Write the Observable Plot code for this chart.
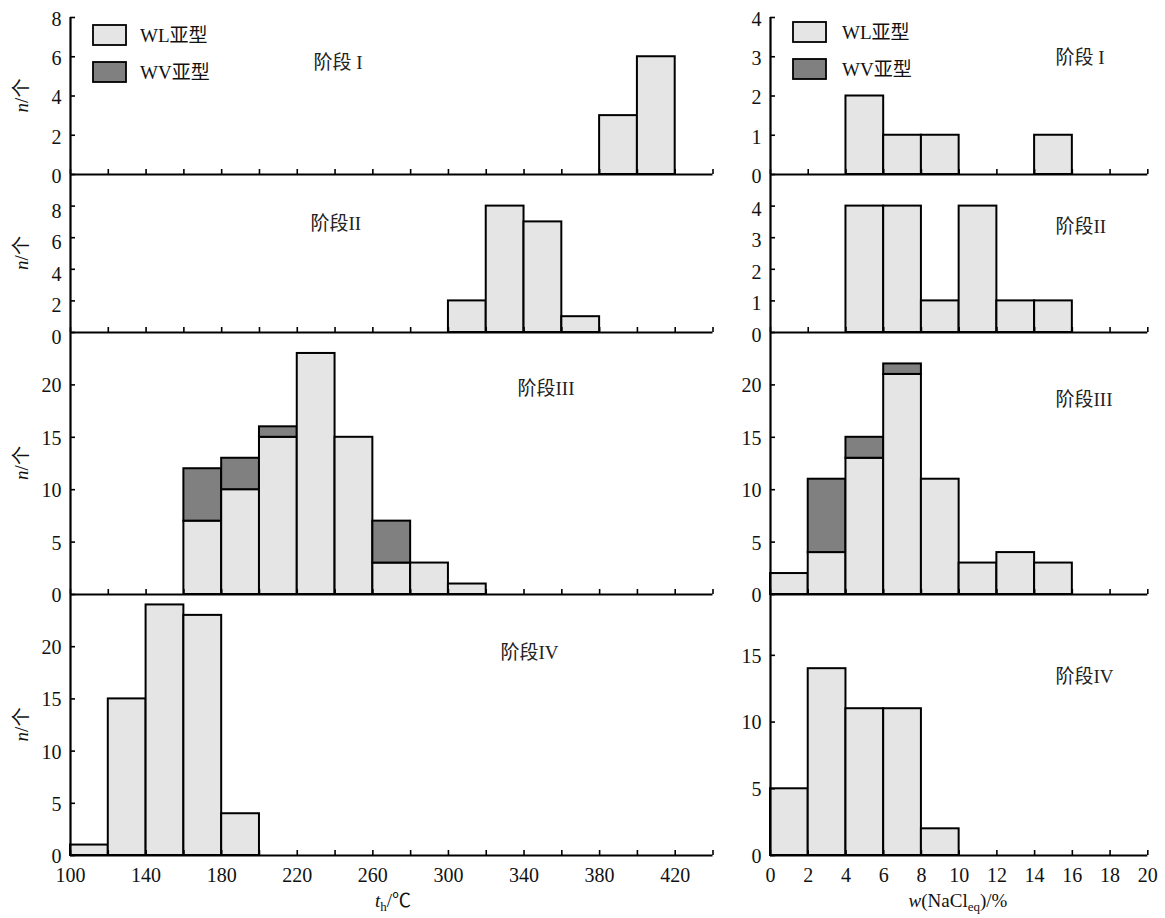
<!DOCTYPE html>
<html><head><meta charset="utf-8">
<script src="https://cdn.jsdelivr.net/npm/d3@7"></script>
<script src="https://cdn.jsdelivr.net/npm/@observablehq/plot@0.6"></script>
<style>
body{margin:0;background:#fff;}
#wrap{position:relative;width:1165px;height:918px;overflow:hidden;background:#fff;}
#wrap svg text{font-family:"Liberation Serif","Times New Roman","Noto Sans CJK SC",serif !important;}
</style></head><body><div id="wrap"></div>
<script>
// ---- data: homogenization temperature bins (start, width 20) ----
const thStarts = [100,120,140,160,180,200,220,240,260,280,300,320,340,360,380,400,420];
const thWL_I   = [0,0,0,0,0,0,0,0,0,0,0,0,0,0,3,6,0];
const thWV_I   = [0,0,0,0,0,0,0,0,0,0,0,0,0,0,0,0,0];
const thWL_II  = [0,0,0,0,0,0,0,0,0,0,2,8,7,1,0,0,0];
const thWV_II  = [0,0,0,0,0,0,0,0,0,0,0,0,0,0,0,0,0];
const thWL_III = [0,0,0,7,10,15,23,15,3,3,1,0,0,0,0,0,0];
const thWV_III = [0,0,0,5,3,1,0,0,4,0,0,0,0,0,0,0,0];
const thWL_IV  = [1,15,24,23,4,0,0,0,0,0,0,0,0,0,0,0,0];
const thWV_IV  = [0,0,0,0,0,0,0,0,0,0,0,0,0,0,0,0,0];
// ---- data: salinity bins (start, width 2) ----
const salStarts = [0,2,4,6,8,10,12,14,16,18];
const salWL_I   = [0,0,2,1,1,0,0,1,0,0];
const salWV_I   = [0,0,0,0,0,0,0,0,0,0];
const salWL_II  = [0,0,4,4,1,4,1,1,0,0];
const salWV_II  = [0,0,0,0,0,0,0,0,0,0];
const salWL_III = [2,4,13,21,11,3,4,3,0,0];
const salWV_III = [0,7,2,1,0,0,0,0,0,0];
const salWL_IV  = [5,14,11,11,2,0,0,0,0,0];
const salWV_IV  = [0,0,0,0,0,0,0,0,0,0];
const stageNames = ["阶段 I","阶段II","阶段III","阶段IV"];
const seriesNames = ["WL亚型","WV亚型"];
const thTickLabels = [100,140,180,220,260,300,340,380,420];
const salTickLabels = [0,2,4,6,8,10,12,14,16,18,20];

// ---- layout / style ----
const light = "#e5e5e5", dark = "#808080";
const serif = "Liberation Serif, Times New Roman, Noto Sans CJK SC, serif";
const rows = [{top:17,bottom:174},{top:174,bottom:332},{top:332,bottom:594},{top:594,bottom:855}];
const cols = [
  {left:0, width:730, ml:70, mr:17.5, starts:thStarts, bw:20, domain:[100,440],
   tickMarks:d3.range(100,441,20), labels:thTickLabels,
   wl:[thWL_I,thWL_II,thWL_III,thWL_IV], wv:[thWV_I,thWV_II,thWV_III,thWV_IV],
   y:[{d:[0,8],t:[0,2,4,6,8],dy:2},{d:[0,10],t:[0,2,4,6,8],dy:5},{d:[0,25],t:[0,5,10,15,20],dy:1},{d:[0,25],t:[0,5,10,15,20],dy:1}],
   stage:[[243,45],[240,49],[447,56],[430,58]]},
  {left:740, width:425, ml:30, mr:17.7, starts:salStarts, bw:2, domain:[0,20],
   tickMarks:d3.range(0,21,2), labels:salTickLabels,
   wl:[salWL_I,salWL_II,salWL_III,salWL_IV], wv:[salWV_I,salWV_II,salWV_III,salWV_IV],
   y:[{d:[0,4],t:[0,1,2,3,4],dy:2},{d:[0,5],t:[0,1,2,3,4],dy:3},{d:[0,25],t:[0,5,10,15,20],dy:1},{d:[0,19.56],t:[0,5,10,15],dy:1}],
   stage:[[285,40],[285,52],[285,67],[285,82]]}
];
const fmt = d => String(d);

const wrap = document.getElementById("wrap");

cols.forEach((c, ci) => {
  rows.forEach((r, ri) => {
    const h = r.bottom - r.top;
    const last = ri === 3;
    const mb = last ? 60 : 0;
    const wl = c.wl[ri], wv = c.wv[ri];
    const bars = [];
    c.starts.forEach((s, i) => {
      if (wl[i] > 0) bars.push({x1:s, x2:s + c.bw, y1:0, y2:wl[i], type:seriesNames[0]});
      if (wv[i] > 0) bars.push({x1:s, x2:s + c.bw, y1:wl[i], y2:wl[i] + wv[i], type:seriesNames[1]});
    });
    const yc = c.y[ri];
    const fw = c.width - c.ml - c.mr;
    const marks = [
      Plot.rect(bars, {x1:"x1", x2:"x2", y1:"y1", y2:"y2",
        fill: d => d.type === seriesNames[0] ? light : dark, stroke:"black", strokeWidth:2}),
      Plot.tickX(c.tickMarks, {x: d => d, insetTop: h - 5, stroke:"black", strokeWidth:1.6}),
      Plot.tickY(yc.t, {y: d => d, insetRight: fw - 5, stroke:"black", strokeWidth:1.6}),
      Plot.ruleY([yc.d[0]], {stroke:"black", strokeWidth:2.2}),
      Plot.ruleX([c.domain[0]], {stroke:"black", strokeWidth:2.2}),
      Plot.axisY({ticks: yc.t, tickFormat: fmt, tickSize: 0, tickPadding: 9, label: null, dy: yc.dy,
        fontFamily: serif, fontSize: 20, fill: "#111"}),
      Plot.text([stageNames[ri]], {frameAnchor:"top-left", dx: c.stage[ri][0], dy: c.stage[ri][1],
        textAnchor:"start", lineAnchor:"middle", fontSize:19, fill:"#222", fontFamily: serif})
    ];
    if (last) marks.push(Plot.axisX({ticks: c.labels, tickFormat: fmt, tickSize: 0, tickPadding: 12, label: null,
      fontFamily: serif, fontSize: 20, fill: "#111"}));
    else marks.push(Plot.axisX({ticks: [], label: null}));
    const svg = Plot.plot({
      width: c.width, height: h + mb,
      marginLeft: c.ml, marginRight: c.mr, marginTop: 0, marginBottom: mb,
      x: {domain: c.domain}, y: {domain: yc.d},
      style: {position:"absolute", left: c.left + "px", top: r.top + "px", overflow:"visible",
        background:"transparent", fontFamily: serif, fontSize:"20px", color:"#111", maxWidth:"none"},
      marks
    });
    svg.setAttribute("font-family", serif);
    wrap.appendChild(svg);
  });
});

// ---- overlay: legends and axis titles (mixed italic / subscript text) ----
const ov = d3.select(wrap).append("svg")
  .attr("width", 1165).attr("height", 918)
  .style("position","absolute").style("left","0px").style("top","0px")
  .style("pointer-events","none").style("overflow","visible")
  .attr("font-family", serif).attr("font-size", 19).attr("fill", "#111");

[[93,140,25,62],[793,842,22,59]].forEach(([rx, tx, y0, y1]) => {
  [[y0, light, seriesNames[0]], [y1, dark, seriesNames[1]]].forEach(([y, f, t]) => {
    ov.append("rect").attr("x", rx).attr("y", y).attr("width", 33).attr("height", 20)
      .attr("fill", f).attr("stroke", "black").attr("stroke-width", 1.8);
    ov.append("text").attr("x", tx).attr("y", y + 10).attr("dy", "0.35em").text(t);
  });
});

rows.forEach(r => {
  const cy = (r.top + r.bottom) / 2;
  const t = ov.append("text").attr("transform", `translate(28,${cy}) rotate(-90)`)
    .attr("text-anchor", "middle");
  t.append("tspan").attr("font-style", "italic").text("n");
  t.append("tspan").text("/个");
});

const tx = ov.append("text").attr("x", 393).attr("y", 907).attr("text-anchor", "middle");
tx.append("tspan").attr("font-style", "italic").text("t");
tx.append("tspan").attr("font-size", 13).attr("dy", 4).text("h");
tx.append("tspan").attr("dy", -4).text("/℃");

const sx = ov.append("text").attr("x", 958).attr("y", 907).attr("text-anchor", "middle");
sx.append("tspan").attr("font-style", "italic").text("w");
sx.append("tspan").text("(NaCl");
sx.append("tspan").attr("font-size", 13).attr("dy", 4).text("eq");
sx.append("tspan").attr("dy", -4).text(")/%");
</script></body></html>
